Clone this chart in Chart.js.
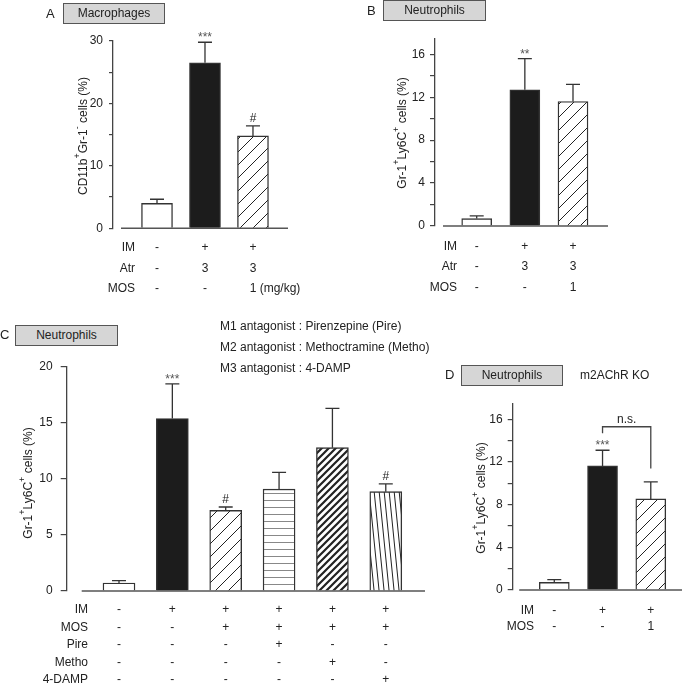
<!DOCTYPE html>
<html>
<head>
<meta charset="utf-8">
<script src="https://cdn.jsdelivr.net/npm/chart.js@4.4.1/dist/chart.umd.min.js"></script>
<style>
  body { margin: 0; background: #fff; }
  #wrap { position: relative; width: 685px; height: 685px; font-family: "Liberation Sans", Arial, sans-serif; color: #222; }
  #wrap canvas { position: absolute; left: 0; top: 0; }
  .lbl { position: absolute; font-size: 13px; line-height: 16px; }
  .box { position: absolute; box-sizing: border-box; border: 1.4px solid #555; background: #d6d6d6;
         font-size: 12px; text-align: center; }
  .note { position: absolute; font-size: 12px; line-height: 14px; white-space: nowrap; }
</style>
</head>
<body>
<div id="wrap">
  <canvas id="chartA" width="685" height="685"></canvas>
  <canvas id="chartB" width="685" height="685"></canvas>
  <canvas id="chartC" width="685" height="685"></canvas>
  <canvas id="chartD" width="685" height="685"></canvas>

  <div class="lbl" style="left:46px;top:6px;">A</div>
  <div class="box" style="left:63px;top:3px;width:102px;height:21px;line-height:18px;">Macrophages</div>
  <div class="lbl" style="left:367px;top:3px;">B</div>
  <div class="box" style="left:383px;top:0px;width:103px;height:21px;line-height:18px;">Neutrophils</div>
  <div class="lbl" style="left:0px;top:327px;">C</div>
  <div class="box" style="left:15px;top:325px;width:103px;height:21px;line-height:18px;">Neutrophils</div>
  <div class="lbl" style="left:445px;top:367px;">D</div>
  <div class="box" style="left:461px;top:365px;width:102px;height:21px;line-height:18px;">Neutrophils</div>
  <div class="note" style="left:580px;top:368px;">m2AChR KO</div>
  <div class="note" style="left:220px;top:319px;">M1 antagonist : Pirenzepine (Pire)</div>
  <div class="note" style="left:220px;top:340px;">M2 antagonist : Methoctramine (Metho)</div>
  <div class="note" style="left:220px;top:361px;">M3 antagonist : 4-DAMP</div>
</div>

<script>
// ---- data ----
// Panel A: macrophages
const titleA = 'CD11b^+Gr-1^- cells (%)';
const valuesA = [4.0, 26.5, 14.8];
const errorsA = [0.65, 3.3, 1.6];
const marksA = ['', '***', '#'];
const fillsA = ['white', 'black', 'diag'];
const rowsA = ['IM', 'Atr', 'MOS'];
const cellsA = [['-', '+', '+'], ['-', '3', '3'], ['-', '-', '1 (mg/kg)']];

// Panel B: neutrophils
const titleB = 'Gr-1^+Ly6C^+ cells (%)';
const valuesB = [0.69, 12.7, 11.6];
const errorsB = [0.25, 2.9, 1.6];
const marksB = ['', '**', ''];
const fillsB = ['white', 'black', 'diag'];
const rowsB = ['IM', 'Atr', 'MOS'];
const cellsB = [['-', '+', '+'], ['-', '3', '3'], ['-', '-', '1']];

// Panel C: neutrophils with antagonists
const titleC = 'Gr-1^+Ly6C^+ cells (%)';
const valuesC = [0.71, 15.4, 7.2, 9.1, 12.8, 8.87];
const errorsC = [0.22, 3.1, 0.3, 1.5, 3.5, 0.7];
const marksC = ['', '***', '#', '', '', '#'];
const fillsC = ['white', 'black', 'diag', 'horiz', 'bold', 'steep'];
const rowsC = ['IM', 'MOS', 'Pire', 'Metho', '4-DAMP'];
const cellsC = [
  ['-', '+', '+', '+', '+', '+'],
  ['-', '-', '+', '+', '+', '+'],
  ['-', '-', '-', '+', '-', '-'],
  ['-', '-', '-', '-', '+', '-'],
  ['-', '-', '-', '-', '-', '+']
];

// Panel D: m2AChR KO
const titleD = 'Gr-1^+Ly6C^+ cells (%)';
const valuesD = [0.72, 11.63, 8.54];
const errorsD = [0.25, 1.47, 1.6];
const marksD = ['', '***', ''];
const fillsD = ['white', 'black', 'diag'];
const rowsD = ['IM', 'MOS'];
const cellsD = [['-', '+', '+'], ['-', '-', '1']];
const bracketD = { from: 2, to: 3, top: 15.3, leftEnd: 14.7, rightEnd: 11.4, label: 'n.s.' };

const FONT = '"Liberation Sans", Arial, sans-serif';
const INK = '#222';

function hatch(kind) {
  const tile = document.createElement('canvas');
  let w = 13, h = 13;
  if (kind === 'horiz') { w = 8; h = 7; }
  if (kind === 'bold') { w = 7; h = 7; }
  if (kind === 'steep') { w = 5; h = 50; }
  tile.width = w; tile.height = h;
  const g = tile.getContext('2d');
  g.fillStyle = '#fff';
  g.fillRect(0, 0, w, h);
  g.strokeStyle = INK;
  g.beginPath();
  if (kind === 'diag' || kind === 'bold') {
    g.lineWidth = kind === 'bold' ? 2.2 : 1;
    g.moveTo(-1, h + 1); g.lineTo(w + 1, -1);
    g.moveTo(-2, 2); g.lineTo(2, -2);
    g.moveTo(w - 2, h + 2); g.lineTo(w + 2, h - 2);
  } else if (kind === 'horiz') {
    g.strokeStyle = '#888';
    g.lineWidth = 1;
    g.moveTo(0, 3.5); g.lineTo(w, 3.5);
  } else if (kind === 'steep') {
    g.lineWidth = 1;
    g.moveTo(-w, 0); g.lineTo(0, h);
    g.moveTo(0, 0); g.lineTo(w, h);
    g.moveTo(w, 0); g.lineTo(2 * w, h);
  }
  g.stroke();
  return g.createPattern(tile, 'repeat');
}

function fillFor(name) {
  if (name === 'white') return '#ffffff';
  if (name === 'black') return '#1c1c1c';
  return hatch(name);
}

// rotated axis title with ^x superscripts
function drawTitle(ctx, text, cx, cy) {
  const parts = [];
  for (let i = 0; i < text.length; i++) {
    if (text[i] === '^') { parts.push({ t: text[i + 1], sup: true }); i++; }
    else if (parts.length && !parts[parts.length - 1].sup) parts[parts.length - 1].t += text[i];
    else parts.push({ t: text[i], sup: false });
  }
  ctx.save();
  ctx.translate(cx, cy);
  ctx.rotate(-Math.PI / 2);
  ctx.fillStyle = INK;
  ctx.textBaseline = 'middle';
  ctx.textAlign = 'left';
  let total = 0;
  parts.forEach(p => {
    ctx.font = (p.sup ? '9px ' : '12px ') + FONT;
    p.w = ctx.measureText(p.t).width;
    total += p.w;
  });
  let x = -total / 2;
  parts.forEach(p => {
    ctx.font = (p.sup ? '9px ' : '12px ') + FONT;
    ctx.fillText(p.t, x, p.sup ? -6 : 0);
    x += p.w;
  });
  ctx.restore();
}

const extras = {
  id: 'extras',
  afterDatasetsDraw(chart, args, opts) {
    const ctx = chart.ctx;
    const xs = chart.scales.x, ys = chart.scales.y;
    const area = chart.chartArea;
    const y0 = ys.getPixelForValue(0);
    const data = chart.data.datasets[0].data;
    ctx.save();

    // error bars (upper only) and significance marks
    ctx.strokeStyle = '#333';
    ctx.lineWidth = 1.3;
    chart.getDatasetMeta(0).data.forEach((bar, i) => {
      const top = ys.getPixelForValue(data[i].y + opts.errors[i]);
      ctx.beginPath();
      ctx.moveTo(bar.x, bar.y);
      ctx.lineTo(bar.x, top);
      ctx.moveTo(bar.x - 7, top);
      ctx.lineTo(bar.x + 7, top);
      ctx.stroke();
      if (opts.marks[i]) {
        ctx.fillStyle = opts.marks[i] === '#' ? INK : '#555';
        ctx.font = '12px ' + FONT;
        ctx.textAlign = 'center';
        ctx.textBaseline = 'alphabetic';
        ctx.fillText(opts.marks[i], bar.x, top - (opts.marks[i] === '#' ? 4 : 1));
      }
    });

    // baseline, detached from the y axis
    ctx.strokeStyle = '#555';
    ctx.lineWidth = 1.6;
    ctx.beginPath();
    ctx.moveTo(area.left + opts.gap, y0);
    ctx.lineTo(area.right, y0);
    ctx.stroke();

    // bracket
    if (opts.bracket) {
      const b = opts.bracket;
      const xl = xs.getPixelForValue(b.from), xr = xs.getPixelForValue(b.to);
      const yt = ys.getPixelForValue(b.top);
      ctx.strokeStyle = '#444';
      ctx.lineWidth = 1.3;
      ctx.beginPath();
      ctx.moveTo(xl, ys.getPixelForValue(b.leftEnd));
      ctx.lineTo(xl, yt);
      ctx.lineTo(xr, yt);
      ctx.lineTo(xr, ys.getPixelForValue(b.rightEnd));
      ctx.stroke();
      ctx.fillStyle = INK;
      ctx.font = '12px ' + FONT;
      ctx.textAlign = 'center';
      ctx.textBaseline = 'alphabetic';
      ctx.fillText(b.label, (xl + xr) / 2, yt - 4);
    }

    // treatment table below the bars
    ctx.fillStyle = INK;
    ctx.font = '12px ' + FONT;
    ctx.textBaseline = 'middle';
    opts.rows.forEach((label, r) => {
      const y = opts.rowTop + r * opts.rowGap;
      ctx.textAlign = 'right';
      ctx.fillText(label, opts.rowRight, y);
      opts.cells[r].forEach((cell, c) => {
        const cx = xs.getPixelForValue(c + 1);
        const head = cell.split(' ')[0];
        ctx.textAlign = 'left';
        ctx.fillText(cell, cx - ctx.measureText(head).width / 2, y);
      });
    });

    drawTitle(ctx, opts.title, opts.titleX, opts.titleY);
    ctx.restore();
  }
};

function panel(id, p) {
  const ctx = document.getElementById(id).getContext('2d');
  return new Chart(ctx, {
    type: 'bar',
    data: {
      datasets: [{
        data: p.values.map((v, i) => ({ x: i + 1, y: v })),
        backgroundColor: p.fills.map(fillFor),
        borderColor: '#333',
        borderWidth: 1.4,
        barThickness: p.barWidth
      }]
    },
    options: {
      responsive: false,
      animation: false,
      layout: { padding: { left: 0, top: p.area.top, right: 685 - p.area.right, bottom: 685 - p.area.bottom } },
      plugins: {
        legend: { display: false },
        tooltip: { enabled: false },
        extras: {
          errors: p.errors, marks: p.marks, gap: p.gap, bracket: p.bracket,
          rows: p.rows, cells: p.cells, rowTop: p.rowTop, rowGap: p.rowGap, rowRight: p.rowRight,
          title: p.title, titleX: p.titleX, titleY: p.titleY
        }
      },
      scales: {
        x: { type: 'linear', display: false, offset: false, min: p.xMin, max: p.xMax },
        y: {
          min: 0,
          max: p.yMax,
          afterFit: s => { s.width = p.area.left; },
          border: { display: true, color: '#444', width: 1.3 },
          grid: { drawOnChartArea: false, drawTicks: true, tickLength: p.tickLen, color: '#444', lineWidth: 1.2 },
          ticks: {
            stepSize: p.yStep,
            includeBounds: false,
            padding: p.tickPad,
            color: INK,
            font: { size: 12, family: FONT },
            callback: v => (v % p.labelEvery === 0 ? v : '')
          }
        }
      }
    },
    plugins: [extras]
  });
}

panel('chartA', {
  values: valuesA, errors: errorsA, marks: marksA, fills: fillsA, rows: rowsA, cells: cellsA, title: titleA,
  area: { left: 113, top: 41, right: 288, bottom: 228.3 }, xMin: 0.083, xMax: 3.73,
  yMax: 30, yStep: 5, labelEvery: 10, barWidth: 31, gap: 8, tickLen: 4, tickPad: 6,
  rowTop: 248, rowGap: 20.5, rowRight: 135, titleX: 84, titleY: 136
});

panel('chartB', {
  values: valuesB, errors: errorsB, marks: marksB, fills: fillsB, rows: rowsB, cells: cellsB, title: titleB,
  area: { left: 435, top: 38.2, right: 608, bottom: 226 }, xMin: 0.134, xMax: 3.727,
  yMax: 17.5, yStep: 2, labelEvery: 4, barWidth: 30, gap: 8, tickLen: 5, tickPad: 5,
  rowTop: 246.7, rowGap: 20.3, rowRight: 457, titleX: 403, titleY: 133
});

panel('chartC', {
  values: valuesC, errors: errorsC, marks: marksC, fills: fillsC, rows: rowsC, cells: cellsC, title: titleC,
  area: { left: 66.7, top: 367, right: 425, bottom: 591 }, xMin: 0.02, xMax: 6.735,
  yMax: 20, yStep: 5, labelEvery: 5, barWidth: 32, gap: 15, tickLen: 6, tickPad: 8,
  rowTop: 610, rowGap: 17.5, rowRight: 88, titleX: 29, titleY: 483
});

panel('chartD', {
  values: valuesD, errors: errorsD, marks: marksD, fills: fillsD, rows: rowsD, cells: cellsD, title: titleD,
  bracket: bracketD,
  area: { left: 512.7, top: 403.3, right: 682, bottom: 590 }, xMin: 0.138, xMax: 3.647,
  yMax: 17.5, yStep: 2, labelEvery: 4, barWidth: 30, gap: 6.5, tickLen: 5, tickPad: 5,
  rowTop: 610.7, rowGap: 16, rowRight: 534, titleX: 482, titleY: 498
});
</script>
</body>
</html>
